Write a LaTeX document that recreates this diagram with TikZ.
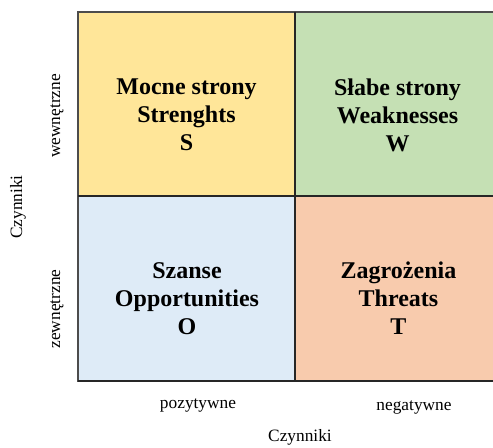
\documentclass[tikz,border=0pt]{standalone}
\usepackage{fontspec}
\setmainfont{Liberation Serif}
\definecolor{swotS}{HTML}{FFE699}
\definecolor{swotW}{HTML}{C5E0B4}
\definecolor{swotO}{HTML}{DEEBF7}
\definecolor{swotT}{HTML}{F8CBAD}
\tikzset{
	quad/.style={align=center, font=\bfseries\fontsize{18}{21}\selectfont},
	axislabel/.style={font=\fontsize{13}{15}\selectfont},
}

\begin{document}
\begin{tikzpicture}[x=0.75pt, y=-0.75pt]
		%%%%% START %%%%%
		\useasboundingbox (0, 0) rectangle (493, 448);
		
		\fill[swotS] (78, 12) rectangle (295, 196);
		\fill[swotW] (295, 12) rectangle (500, 196);
		\fill[swotO] (78, 196) rectangle (295, 381);
		\fill[swotT] (295, 196) rectangle (500, 381);
		
		\draw[line width=0.8pt, color=black!70] (78, 12) rectangle (500, 381);
		\draw[line width=1.2pt, color=black!85] (295, 12) -- (295, 381);
		\draw[line width=1.2pt, color=black!85] (78, 196) -- (500, 196);
		\draw[line width=1.1pt, color=black!85] (78, 381) -- (500, 381);
		
		\node[quad] (S) at (186.5, 115) {Mocne strony\\Strenghts\\S};
		\node[quad] (W) at (397.5, 115) {Słabe strony\\Weaknesses\\W};
		\node[quad] (O) at (187, 298.5) {Szanse\\Opportunities\\O};
		\node[quad] (T) at (398.5, 298.5) {Zagrożenia\\Threats\\T};
		
		\node[axislabel, rotate=90] (wew) at (57, 116) {wewnętrzne};
		\node[axislabel, rotate=90] (zew) at (57, 309) {zewnętrzne};
		\node[axislabel, rotate=90] (czyL) at (18, 207) {Czynniki};
		
		\node[axislabel] (poz) at (198, 405) {pozytywne};
		\node[axislabel] (neg) at (414, 407) {negatywne};
		\node[axislabel] (czyB) at (300, 437) {Czynniki};
		
		%%%%% END %%%%%
	\end{tikzpicture}
\end{document}
